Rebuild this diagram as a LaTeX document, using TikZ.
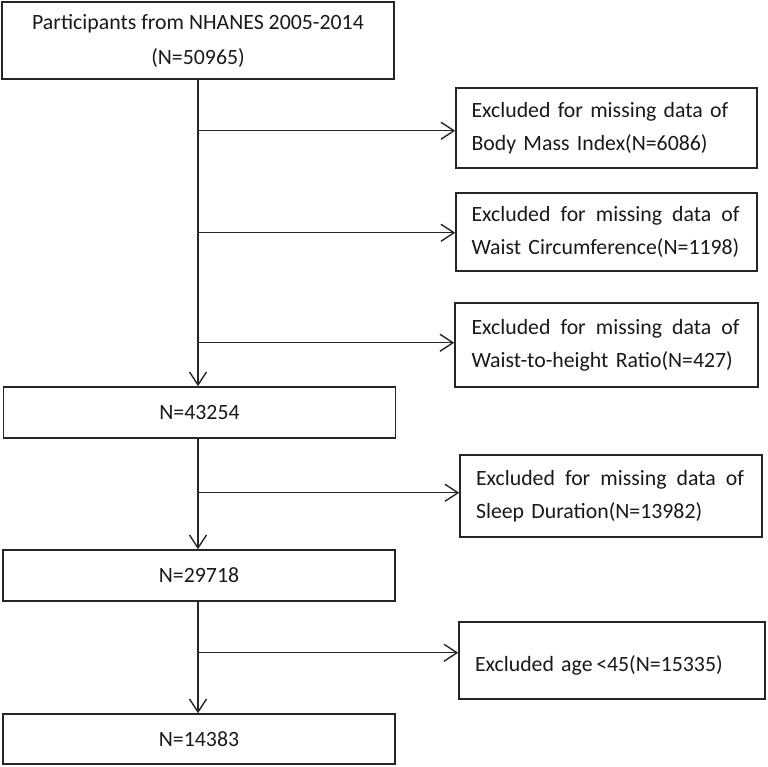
\documentclass[tikz,border=0pt]{standalone}
\usepackage{fontspec}
\setmainfont{Carlito}
\usetikzlibrary{arrows.meta,calc}
\newcommand{\exline}{\hbox to 268pt{Excluded\hfill for\hfill missing\hfill data\hfill of}}
\begin{document}
\begin{tikzpicture}[x=1pt,y=-1pt,
  box/.style={draw=black!85, line width=1.5pt, inner sep=0pt, text=black!90, font=\fontsize{21.8}{33}\selectfont},
  mainbox/.style={box, minimum width=392pt, align=center},
  exbox/.style={box, text width=270pt, align=left, minimum height=80pt},
  flow/.style={draw=black!85, line width=1.4pt},
  arr/.style={flow, -{Straight Barb[length=13pt,width=17pt]}}]
\useasboundingbox (0,0) rectangle (767,767);
% main boxes
\node[mainbox, minimum height=77pt, font=\fontsize{21.8}{35}\selectfont] (top) at (198,40.5) {Participants from NHANES 2005-2014\\(N=50965)};
\node[mainbox, minimum height=51pt] (n1) at (199.5,412.5) {N=43254};
\node[mainbox, minimum height=51pt] (n2) at (199,575.5) {N=29718};
\node[mainbox, minimum height=50pt] (n3) at (199,739) {N=14383};
% exclusion boxes
\node[exbox, minimum width=301pt, minimum height=80pt] (e1) at (606.5,128) {Excluded for missing data of\\Body Mass Index(N=6086)};
\node[exbox, minimum width=301pt, minimum height=78pt] (e2) at (606.5,232) {\exline\\Waist Circumference(N=1198)};
\node[exbox, minimum width=303pt, minimum height=84pt] (e3) at (606.5,345) {\exline\\Waist-to-height Ratio(N=427)};
\node[exbox, minimum width=302pt, minimum height=82pt] (e4) at (611,496) {\exline\\Sleep Duration(N=13982)};
\node[exbox, minimum width=306pt, minimum height=77pt, text width=274pt] (e5) at (612,660.5) {\raisebox{-5pt}[\height][\depth]{Excluded age\,<45(N=15335)}};
% branch points
\coordinate (b1) at ($(top.south)+(0,51)$);
\coordinate (b2) at ($(top.south)+(0,153)$);
\coordinate (b3) at ($(top.south)+(0,263)$);
\coordinate (b4) at ($(n1.south)+(0,54)$);
\coordinate (b5) at ($(n2.south)+(0,51)$);
% connectors
\draw[arr] (top.south) -- (top.south |- n1.north);
\draw[arr] (b1) -- (b1 -| e1.west);
\draw[arr] (b2) -- (b2 -| e2.west);
\draw[arr] (b3) -- (b3 -| e3.west);
\draw[arr] (n1.south -| top.south) -- (n2.north -| top.south);
\draw[arr] (b4 -| top.south) -- (b4 -| e4.west);
\draw[arr] (n2.south -| top.south) -- (n3.north -| top.south);
\draw[arr] (b5 -| top.south) -- (b5 -| e5.west);
\end{tikzpicture}
\end{document}
